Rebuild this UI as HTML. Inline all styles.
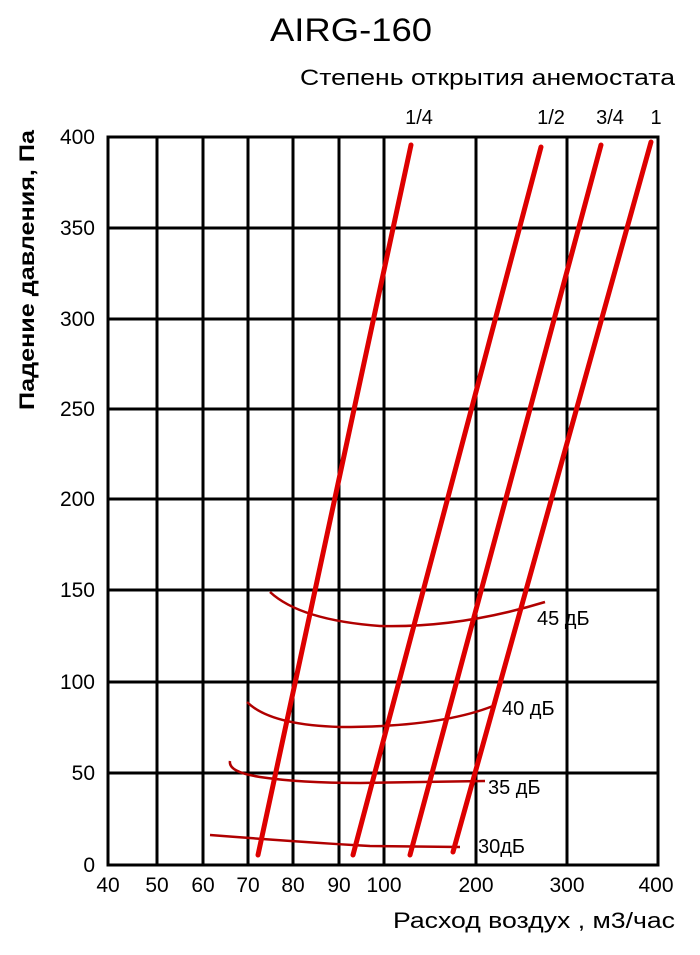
<!DOCTYPE html>
<html><head><meta charset="utf-8"><style>
body{margin:0;background:#fff}
svg text{font-family:"Liberation Sans",sans-serif;fill:#000}
</style></head><body>
<svg width="700" height="950" xmlns="http://www.w3.org/2000/svg">
<text x="270" y="41" font-size="32" textLength="162" lengthAdjust="spacingAndGlyphs">AIRG-160</text>
<text x="300" y="85" font-size="22" textLength="375" lengthAdjust="spacingAndGlyphs">Степень открытия анемостата</text>
<g font-size="20" text-anchor="middle">
<text x="419" y="124">1/4</text><text x="551" y="124">1/2</text><text x="610" y="124">3/4</text><text x="656" y="124">1</text>
</g>
<g stroke="#000" stroke-width="3" fill="none">
<rect x="108" y="137" width="550" height="728"/>
<path d="M157 137V865M203 137V865M248 137V865M293 137V865M339 137V865M384 137V865M476 137V865M567 137V865"/>
<path d="M108 228H658M108 319H658M108 409H658M108 499H658M108 590H658M108 682H658M108 773H658"/>
</g>
<g font-size="21" text-anchor="end">
<text x="95" y="144">400</text><text x="95" y="235">350</text><text x="95" y="326">300</text><text x="95" y="416">250</text><text x="95" y="506">200</text><text x="95" y="597">150</text><text x="95" y="689">100</text><text x="95" y="780">50</text><text x="95" y="872">0</text>
</g>
<g font-size="21" text-anchor="middle">
<text x="108" y="892">40</text><text x="157" y="892">50</text><text x="203" y="892">60</text><text x="248" y="892">70</text><text x="293" y="892">80</text><text x="339" y="892">90</text><text x="384" y="892">100</text><text x="476" y="892">200</text><text x="567" y="892">300</text><text x="656" y="892">400</text>
</g>
<text x="393" y="928" font-size="22" textLength="282" lengthAdjust="spacingAndGlyphs">Расход воздух , м3/час</text>
<text transform="translate(34,410) rotate(-90)" font-size="21" font-weight="bold" textLength="280" lengthAdjust="spacingAndGlyphs">Падение давления, Па</text>
<g stroke="#b00000" stroke-width="2.5" fill="none">
<path d="M270 592Q300 620 380 626Q460 628 545 602"/>
<path d="M247 702Q270 725 340 727Q440 727 493 706"/>
<path d="M230 761Q228 772 260 777Q300 783 360 783L485 781"/>
<path d="M210 835Q300 842 370 846L460 847"/>
</g>
<g stroke="#dd0000" stroke-width="5" stroke-linecap="round" fill="none">
<path d="M258 855L411 145"/>
<path d="M353 855L541 147"/>
<path d="M410 855L601 145"/>
<path d="M453 852L651 142"/>
</g>
<g font-size="20">
<text x="537" y="625">45 дБ</text><text x="502" y="715">40 дБ</text><text x="488" y="794">35 дБ</text><text x="478" y="853">30дБ</text>
</g>
</svg>
</body></html>
